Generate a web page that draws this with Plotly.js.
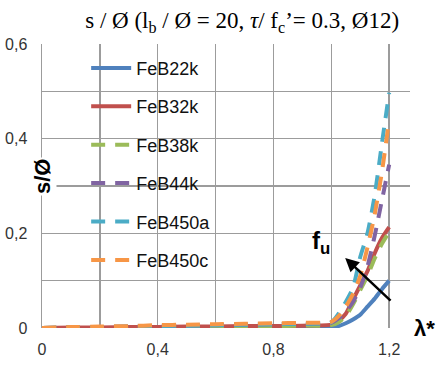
<!DOCTYPE html>
<html>
<head>
<meta charset="utf-8">
<script src="https://cdn.plot.ly/plotly-3.0.1.min.js"></script>
<style>html,body{margin:0;padding:0;background:#fff;}#chart{width:446px;height:365px;}</style>
</head>
<body>
<div id="chart"></div>
<script>
const lambda = [0, 0.1, 0.2, 0.3, 0.4, 0.5, 0.6, 0.7, 0.8, 0.9, 1.0, 1.025, 1.05, 1.075, 1.1, 1.125, 1.15, 1.175, 1.2];
const seriesNames = ["FeB22k", "FeB32k", "FeB38k", "FeB44k", "FeB450a", "FeB450c"];
const feb22k  = [0, 0, 0, 0, 0, 0, 0, 0, 0.001, 0.001, 0.002, 0.004, 0.01, 0.018, 0.028, 0.045, 0.062, 0.082, 0.1];
const feb32k  = [0, 0.001, 0.001, 0.002, 0.002, 0.003, 0.003, 0.004, 0.004, 0.005, 0.007, 0.015, 0.03, 0.06, 0.09, 0.12, 0.158, 0.19, 0.213];
const feb38k  = [0, 0.001, 0.001, 0.002, 0.002, 0.003, 0.003, 0.004, 0.004, 0.005, 0.006, 0.012, 0.025, 0.05, 0.08, 0.11, 0.147, 0.178, 0.203];
const feb44k  = [0, 0.001, 0.002, 0.003, 0.004, 0.005, 0.006, 0.007, 0.008, 0.009, 0.011, 0.02, 0.035, 0.055, 0.085, 0.13, 0.195, 0.27, 0.345];
const feb450a = [0, 0.001, 0.002, 0.003, 0.004, 0.005, 0.006, 0.007, 0.008, 0.009, 0.012, 0.03, 0.055, 0.085, 0.15, 0.2, 0.28, 0.39, 0.497];
const feb450c = [0, 0.002, 0.003, 0.004, 0.006, 0.007, 0.008, 0.009, 0.01, 0.011, 0.013, 0.025, 0.045, 0.072, 0.11, 0.17, 0.24, 0.33, 0.44];
const xTickVals = [0, 0.2, 0.4, 0.6, 0.8, 1.0, 1.2];
const xTickText = ["0", "", "0,4", "", "0,8", "", "1,2"];
const yTickVals = [0, 0.1, 0.2, 0.3, 0.4, 0.5, 0.6];
const yTickText = ["0", "", "0,2", "", "0,4", "", "0,6"];

const allY = [feb22k, feb32k, feb38k, feb44k, feb450a, feb450c];
const colors = ["#4F81BD", "#C0504D", "#9BBB59", "#8064A2", "#4BACC6", "#F79646"];
const dashes = ["solid", "solid", "14px,10px", "14px,10px", "14px,10px", "14px,10px"];

const traces = seriesNames.map((n, i) => ({
  x: lambda, y: allY[i], name: n, type: "scatter", mode: "lines",
  legendgroup: n,
  line: {color: colors[i], width: 4, dash: dashes[i], shape: "spline", smoothing: 0.6}
}));

const tickFont = {family: "Liberation Sans, Arial", size: 16, color: "#333"};
const layout = {
  width: 446, height: 365,
  margin: {l: 42, r: 36, t: 44, b: 37},
  paper_bgcolor: "#fff", plot_bgcolor: "#fff",
  title: {text: "s / Ø (l<sub>b</sub> / Ø = 20, <i>τ</i>/ f<sub>c</sub>’= 0.3, Ø12)",
          font: {family: "Liberation Serif, serif", size: 23, color: "#000"},
          x: 0.543, xanchor: "center", y: 0.945, yanchor: "middle"},
  xaxis: {range: [0, 1.272], tickvals: xTickVals, ticktext: xTickText, showgrid: true,
          gridcolor: "#9c9c9c", gridwidth: 1.5, zeroline: false, showline: false,
          ticks: "", ticklabelstandoff: 10, tickfont: tickFont},
  yaxis: {range: [0, 0.6], tickvals: yTickVals, ticktext: yTickText, showgrid: true,
          gridcolor: "#9c9c9c", gridwidth: 1.5, zeroline: false, showline: true,
          linecolor: "#9c9c9c", linewidth: 1.5, ticks: "", ticklabelstandoff: 10,
          tickfont: tickFont},
  showlegend: true,
  legend: {x: 0.12, y: 0.98, xanchor: "left", yanchor: "top", bgcolor: "rgba(0,0,0,0)",
           font: {family: "Liberation Sans, Arial", size: 18, color: "#111"},
           tracegroupgap: 12, traceorder: "grouped", itemwidth: 40},
  shapes: [
    {type: "rect", xref: "paper", yref: "paper", x0: 0.027, x1: 0.457, y0: 0.113, y1: 0.979,
     fillcolor: "#fff", line: {width: 0}, layer: "between"}
  ],
  annotations: [
    {xref: "paper", yref: "y", x: 1.0, y: 0, text: "<b>λ*</b>", showarrow: false,
     xanchor: "left", yanchor: "middle", xshift: 2,
     font: {family: "Liberation Sans, Arial", size: 22, color: "#000"}},
    {xref: "paper", yref: "y", x: 0, y: 0.319, text: "<b>s/Ø</b>", showarrow: false,
     textangle: -90, bgcolor: "#fff", xanchor: "center", yanchor: "middle",
     font: {family: "Liberation Sans, Arial", size: 22, color: "#000"}},
    {xref: "x", yref: "y", x: 1.048, y: 0.148, ax: 1.21, ay: 0.055, axref: "x", ayref: "y",
     text: "", showarrow: true, arrowhead: 2, arrowsize: 1.1, arrowwidth: 2.5, arrowcolor: "#000"},
    {xref: "x", yref: "y", x: 0.965, y: 0.18, text: "<b>f<sub>u</sub></b>", showarrow: false,
     xanchor: "center", yanchor: "middle",
     font: {family: "Liberation Sans, Arial", size: 24, color: "#000"}}
  ]
};
Plotly.newPlot("chart", traces, layout, {displayModeBar: false, staticPlot: true});
</script>
</body>
</html>
